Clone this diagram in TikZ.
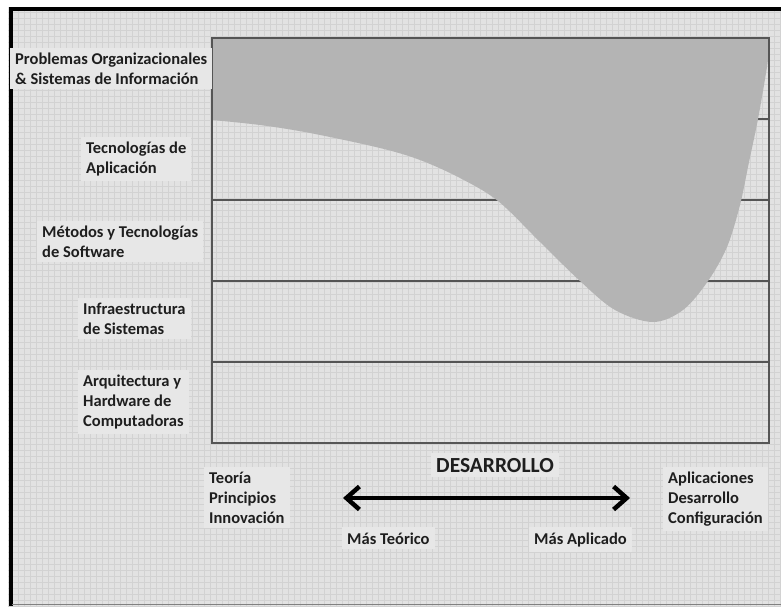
\documentclass[tikz,border=0pt]{standalone}
\usepackage{fontspec}
\setmainfont{Carlito}
\usetikzlibrary{arrows.meta}
\definecolor{paper}{RGB}{226,226,226}
\definecolor{gridc}{RGB}{210,210,210}
\definecolor{labelbg}{RGB}{231,231,231}
\definecolor{bandfill}{RGB}{180,180,180}
\definecolor{rulec}{RGB}{85,85,85}
\definecolor{inkc}{RGB}{30,30,30}
\begin{document}
\begin{tikzpicture}[x=1pt,y=-1pt,
  lab/.style={anchor=base west, align=left, fill=labelbg, inner xsep=5pt, inner ysep=5pt,
    text=inkc, font=\bfseries\fontsize{16.5}{19.8}\selectfont},
  title/.style={lab, font=\bfseries\fontsize{21.5}{25}\selectfont},
  band/.style={draw=rulec, line width=1.6pt},
  frame/.style={draw=rulec, line width=1.2pt},
  bigarrow/.style={draw=black, line width=4.5pt,
    {Straight Barb[length=13pt,width=23pt]}-{Straight Barb[length=13pt,width=23pt]}}]
\useasboundingbox (0,0) rectangle (781,606);
% page and grid texture
\fill[white] (0,0) rectangle (781,606);
\fill[paper] (8,7) rectangle (781,606);
\draw[gridc, line width=0.7pt, step=6pt] (8,7) grid (781,606);
\draw[black, line width=4pt] (10.5,606) -- (10.5,9) -- (781,9);
\draw[gray, line width=0.8pt] (12,604) -- (781,604);

% band separators
\foreach \yy in {119,200,281,362} \draw[band] (212,\yy) -- (769,\yy);

% shaded region
\fill[bandfill] (212,38) -- (212,120)
  -- plot[smooth, tension=0.55] coordinates {(212,120) (260,125) (310,133) (380,148) (420,160)
    (460,178) (498,201) (540,242) (580,281) (615,310) (653,322) (683,310) (708,281)
    (727,247) (740,205) (749,162) (758,119) (767,67) (769,50)}
  -- (769,38) -- cycle;

% chart frame
\draw[frame] (212,38) rectangle (769,443);

% row labels (anchored at the baseline of their last line)
\node[lab] (l1) at (10,84) {Problemas Organizacionales\\\& Sistemas de Información};
\node[lab] (l2) at (81,173) {Tecnologías de\\Aplicación};
\node[lab] (l3) at (37,257) {Métodos y Tecnologías\\de Software};
\node[lab] (l4) at (78,334) {Infraestructura\\de Sistemas};
\node[lab] (l5) at (78,426) {Arquitectura y\\Hardware de\\Computadoras};

% axis labels
\node[lab] (b1) at (204,523) {Teoría\\Principios\\Innovación};
\node[lab] (b2) at (663,523) {Aplicaciones\\Desarrollo\\Configuración};
\node[title] (dev) at (431,472) {DESARROLLO};
\node[lab] (mt) at (342,544) {Más Teórico};
\node[lab] (ma) at (529,544) {Más Aplicado};

% development axis
\coordinate (al) at (343,498);
\coordinate (ar) at (630,498);
\draw[bigarrow] (al) -- (ar);
\end{tikzpicture}
\end{document}
